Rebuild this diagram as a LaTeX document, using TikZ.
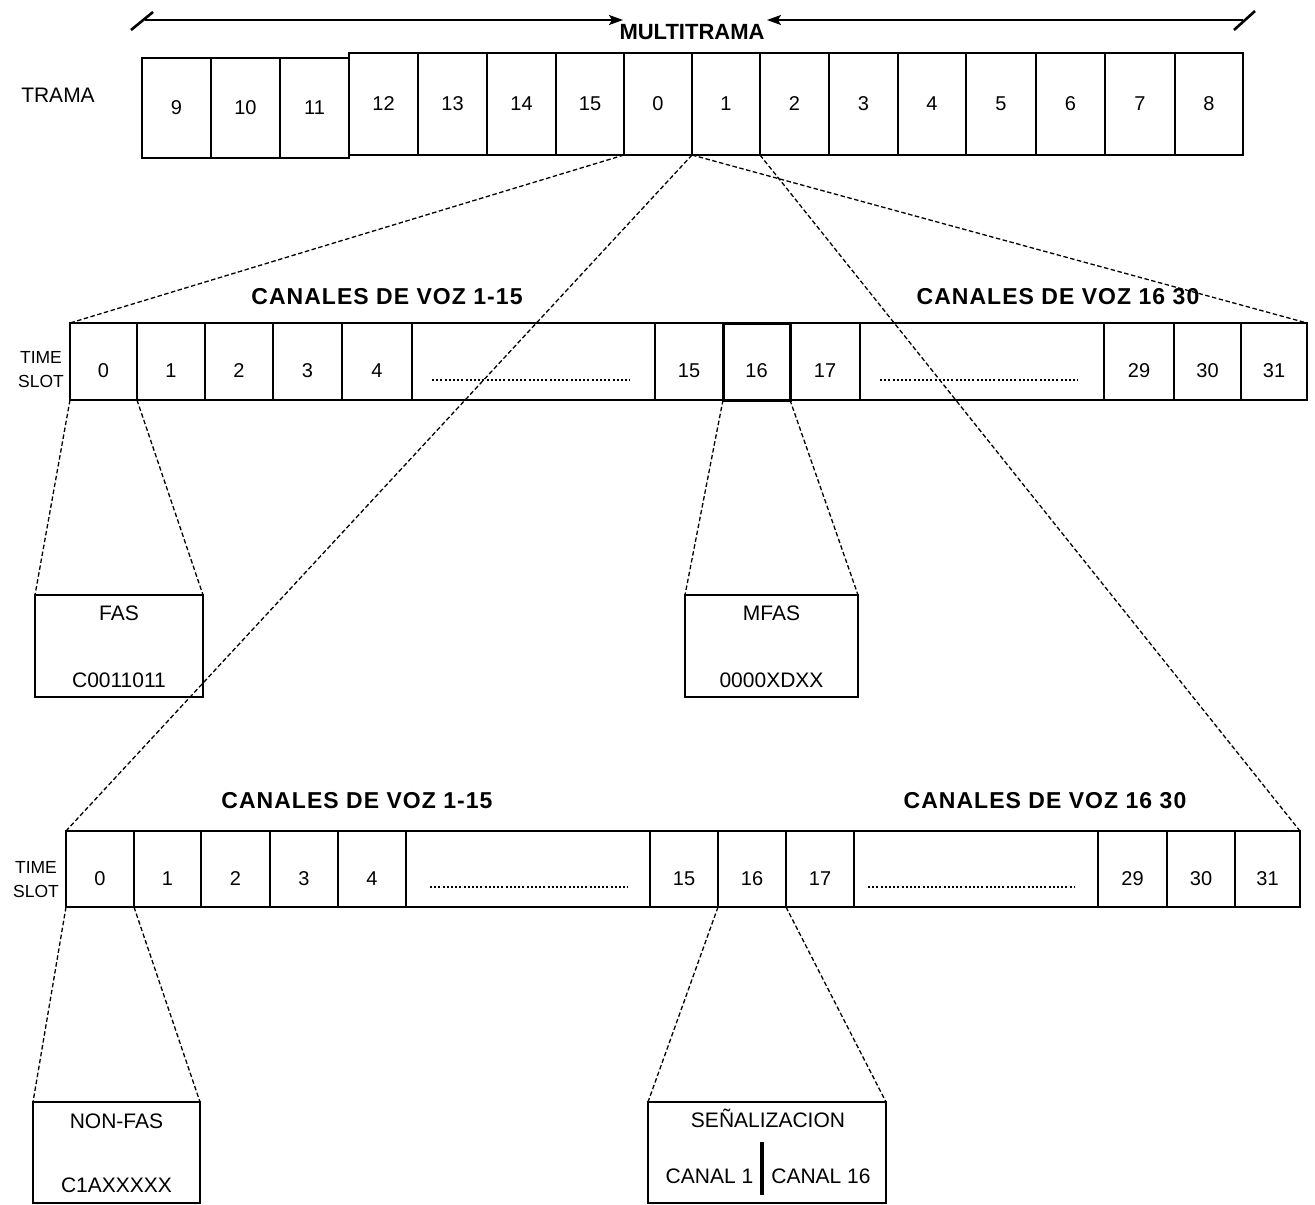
\documentclass[tikz,border=0pt]{standalone}
\usepackage{fontspec}
\setmainfont{Liberation Sans}
\usetikzlibrary{arrows.meta,calc}
\newcommand\mkcell[7][]{\node[cell,#1,minimum width={(#4-#3)*1pt},minimum height={(#6-#5)*1pt}] (#2) at ({(#3+#4)/2},{(#5+#6)/2}) {#7};}
\begin{document}
\begin{tikzpicture}[x=1pt,y=-1pt,
  cell/.style={draw, line width=1.6pt, inner sep=0pt, outer sep=0pt, font=\fontsize{20}{24}\selectfont},
  tsrow/.style={text height=32pt, text depth=0pt},
  bigbox/.style={draw, line width=2.4pt, inner sep=0pt, outer sep=0pt},
  lbl/.style={inner sep=0pt, font=\fontsize{21}{24}\selectfont},
  slbl/.style={inner sep=0pt, font=\fontsize{17.5}{24}\selectfont, align=center},
  head/.style={inner sep=0pt, font=\fontsize{22}{24}\selectfont\bfseries},
  chead/.style={inner sep=0pt, font=\fontsize{23}{24}\selectfont\bfseries\addfontfeature{LetterSpace=4.5}},
  dashline/.style={line width=1.3pt, dash pattern=on 4.5pt off 2.5pt},
  dotline/.style={line width=2.6pt, dash pattern=on 2pt off 2.2pt},
  arr/.style={line width=1.6pt}
]
\useasboundingbox (0,0) rectangle (1315,1205);

% ---------- top arrows ----------
\coordinate (al) at (145,20);
\coordinate (ar) at (623,20);
\coordinate (bl) at (767,20);
\coordinate (br) at (1243,20);
\coordinate (tl1) at (131,30);
\coordinate (tl2) at (153,12);
\coordinate (tr1) at (1234,30);
\coordinate (tr2) at (1255,11);
\draw[arr,-{Stealth[length=14pt,width=10pt,inset=3pt]}] (al) -- (ar);
\draw[arr,-{Stealth[length=14pt,width=10pt,inset=3pt]}] (br) -- (bl);
\draw[line width=2.6pt] (tl1) -- (tl2);
\draw[line width=2.6pt] (tr1) -- (tr2);
\node[head] (mt) at (692,32) {MULTITRAMA};
\node[lbl] (trama) at (58,95) {TRAMA};

% ---------- trama row ----------
\mkcell{t9}{142}{211}{58}{158}{9}
\mkcell{t10}{211}{280}{58}{158}{10}
\mkcell{t11}{280}{349}{58}{158}{11}
\mkcell{t12}{349}{418}{53}{155}{12}
\mkcell{t13}{418}{487}{53}{155}{13}
\mkcell{t14}{487}{556}{53}{155}{14}
\mkcell{t15}{556}{624}{53}{155}{15}
\mkcell{t0}{624}{692}{53}{155}{0}
\mkcell{t1}{692}{760}{53}{155}{1}
\mkcell{t2}{760}{829}{53}{155}{2}
\mkcell{t3}{829}{898}{53}{155}{3}
\mkcell{t4}{898}{966}{53}{155}{4}
\mkcell{t5}{966}{1036}{53}{155}{5}
\mkcell{t6}{1036}{1105}{53}{155}{6}
\mkcell{t7}{1105}{1175}{53}{155}{7}
\mkcell{t8}{1175}{1243}{53}{155}{8}

% ---------- row 1 ----------
\node[chead] (h1a) at (387,297) {CANALES DE VOZ 1-15};
\node[chead] (h1b) at (1058,297) {CANALES DE VOZ 16 30};
\node[slbl] (ts1) at (41,370) {TIME\\SLOT};
\mkcell[tsrow,line width=2.4pt]{r1c0}{70}{137}{323}{400}{0}
\mkcell[tsrow]{r1c1}{137}{205}{323}{400}{1}
\mkcell[tsrow]{r1c2}{205}{273}{323}{400}{2}
\mkcell[tsrow]{r1c3}{273}{342}{323}{400}{3}
\mkcell[tsrow]{r1c4}{342}{412}{323}{400}{4}
\mkcell{r1d1}{412}{655}{323}{400}{}
\mkcell[tsrow]{r1c15}{655}{723}{323}{400}{15}
\mkcell[tsrow]{r1c17}{790}{860}{323}{400}{17}
\mkcell{r1d2}{860}{1104}{323}{400}{}
\mkcell[tsrow]{r1c29}{1104}{1174}{323}{400}{29}
\mkcell[tsrow]{r1c30}{1174}{1241}{323}{400}{30}
\mkcell[tsrow]{r1c31}{1241}{1307}{323}{400}{31}
\mkcell[tsrow,line width=3pt]{r1c16}{723}{790}{323}{400}{16}
\draw[dotline] (432,380) -- (630,380);
\draw[dotline] (880,380) -- (1078,380);

% ---------- FAS / MFAS ----------
\node[bigbox, minimum width=168pt, minimum height=102pt] (fas) at (119,646) {};
\node[lbl] (fast) at (119,613) {FAS};
\node[lbl] (fasv) at (119,680) {C0011011};
\node[bigbox, minimum width=173pt, minimum height=102pt] (mfas) at (771.5,646) {};
\node[lbl] (mfast) at (771.5,613) {MFAS};
\node[lbl] (mfasv) at (771.5,680) {0000XDXX};

% ---------- row 2 ----------
\node[chead] (h2a) at (357,801) {CANALES DE VOZ 1-15};
\node[chead] (h2b) at (1045,801) {CANALES DE VOZ 16 30};
\node[slbl] (ts2) at (36,880) {TIME\\SLOT};
\mkcell[tsrow,line width=2.4pt]{r2c0}{66}{134}{831}{907}{0}
\mkcell[tsrow]{r2c1}{134}{201}{831}{907}{1}
\mkcell[tsrow]{r2c2}{201}{270}{831}{907}{2}
\mkcell[tsrow]{r2c3}{270}{338}{831}{907}{3}
\mkcell[tsrow]{r2c4}{338}{406}{831}{907}{4}
\mkcell{r2d1}{406}{650}{831}{907}{}
\mkcell[tsrow]{r2c15}{650}{718}{831}{907}{15}
\mkcell[tsrow]{r2c16}{718}{786}{831}{907}{16}
\mkcell[tsrow]{r2c17}{786}{854}{831}{907}{17}
\mkcell{r2d2}{854}{1098}{831}{907}{}
\mkcell[tsrow]{r2c29}{1098}{1167}{831}{907}{29}
\mkcell[tsrow]{r2c30}{1167}{1235}{831}{907}{30}
\mkcell[tsrow]{r2c31}{1235}{1300}{831}{907}{31}
\draw[dotline] (430,887) -- (628,887);
\draw[dotline] (868,887) -- (1075,887);

% ---------- NON-FAS / SENALIZACION ----------
\node[bigbox, line width=1.8pt, minimum width=167pt, minimum height=101pt] (nfas) at (116.5,1152.5) {};
\node[lbl] (nfast) at (116.5,1121) {NON-FAS};
\node[lbl] (nfasv) at (116.5,1185) {C1AXXXXX};
\node[bigbox, line width=1.8pt, minimum width=238pt, minimum height=101pt] (sen) at (767,1152.5) {};
\node[lbl] (sent) at (768,1118) {SEÑALIZACION};
\node[lbl] (c1) at (709.5,1176) {CANAL 1};
\node[lbl] (c16) at (821,1176) {CANAL 16};
\coordinate (bart) at (762,1142);
\coordinate (barb) at (762,1195);
\draw[line width=4pt] (bart) -- (barb);

% ---------- dashed connectors ----------
\draw[dashline] (t0.south west) -- (r1c0.north west);
\draw[dashline] (t0.south east) -- (r1c31.north east);
\draw[dashline] (t1.south west) -- (r2c0.north west);
\draw[dashline] (t1.south east) -- (r2c31.north east);
\draw[dashline] (r1c0.south west) -- (fas.north west);
\draw[dashline] (r1c0.south east) -- (fas.north east);
\draw[dashline] (r1c16.south west) -- (mfas.north west);
\draw[dashline] (r1c16.south east) -- (mfas.north east);
\draw[dashline] (r2c0.south west) -- (nfas.north west);
\draw[dashline] (r2c0.south east) -- (nfas.north east);
\draw[dashline] (r2c16.south west) -- (sen.north west);
\draw[dashline] (r2c16.south east) -- (sen.north east);
\end{tikzpicture}
\end{document}
